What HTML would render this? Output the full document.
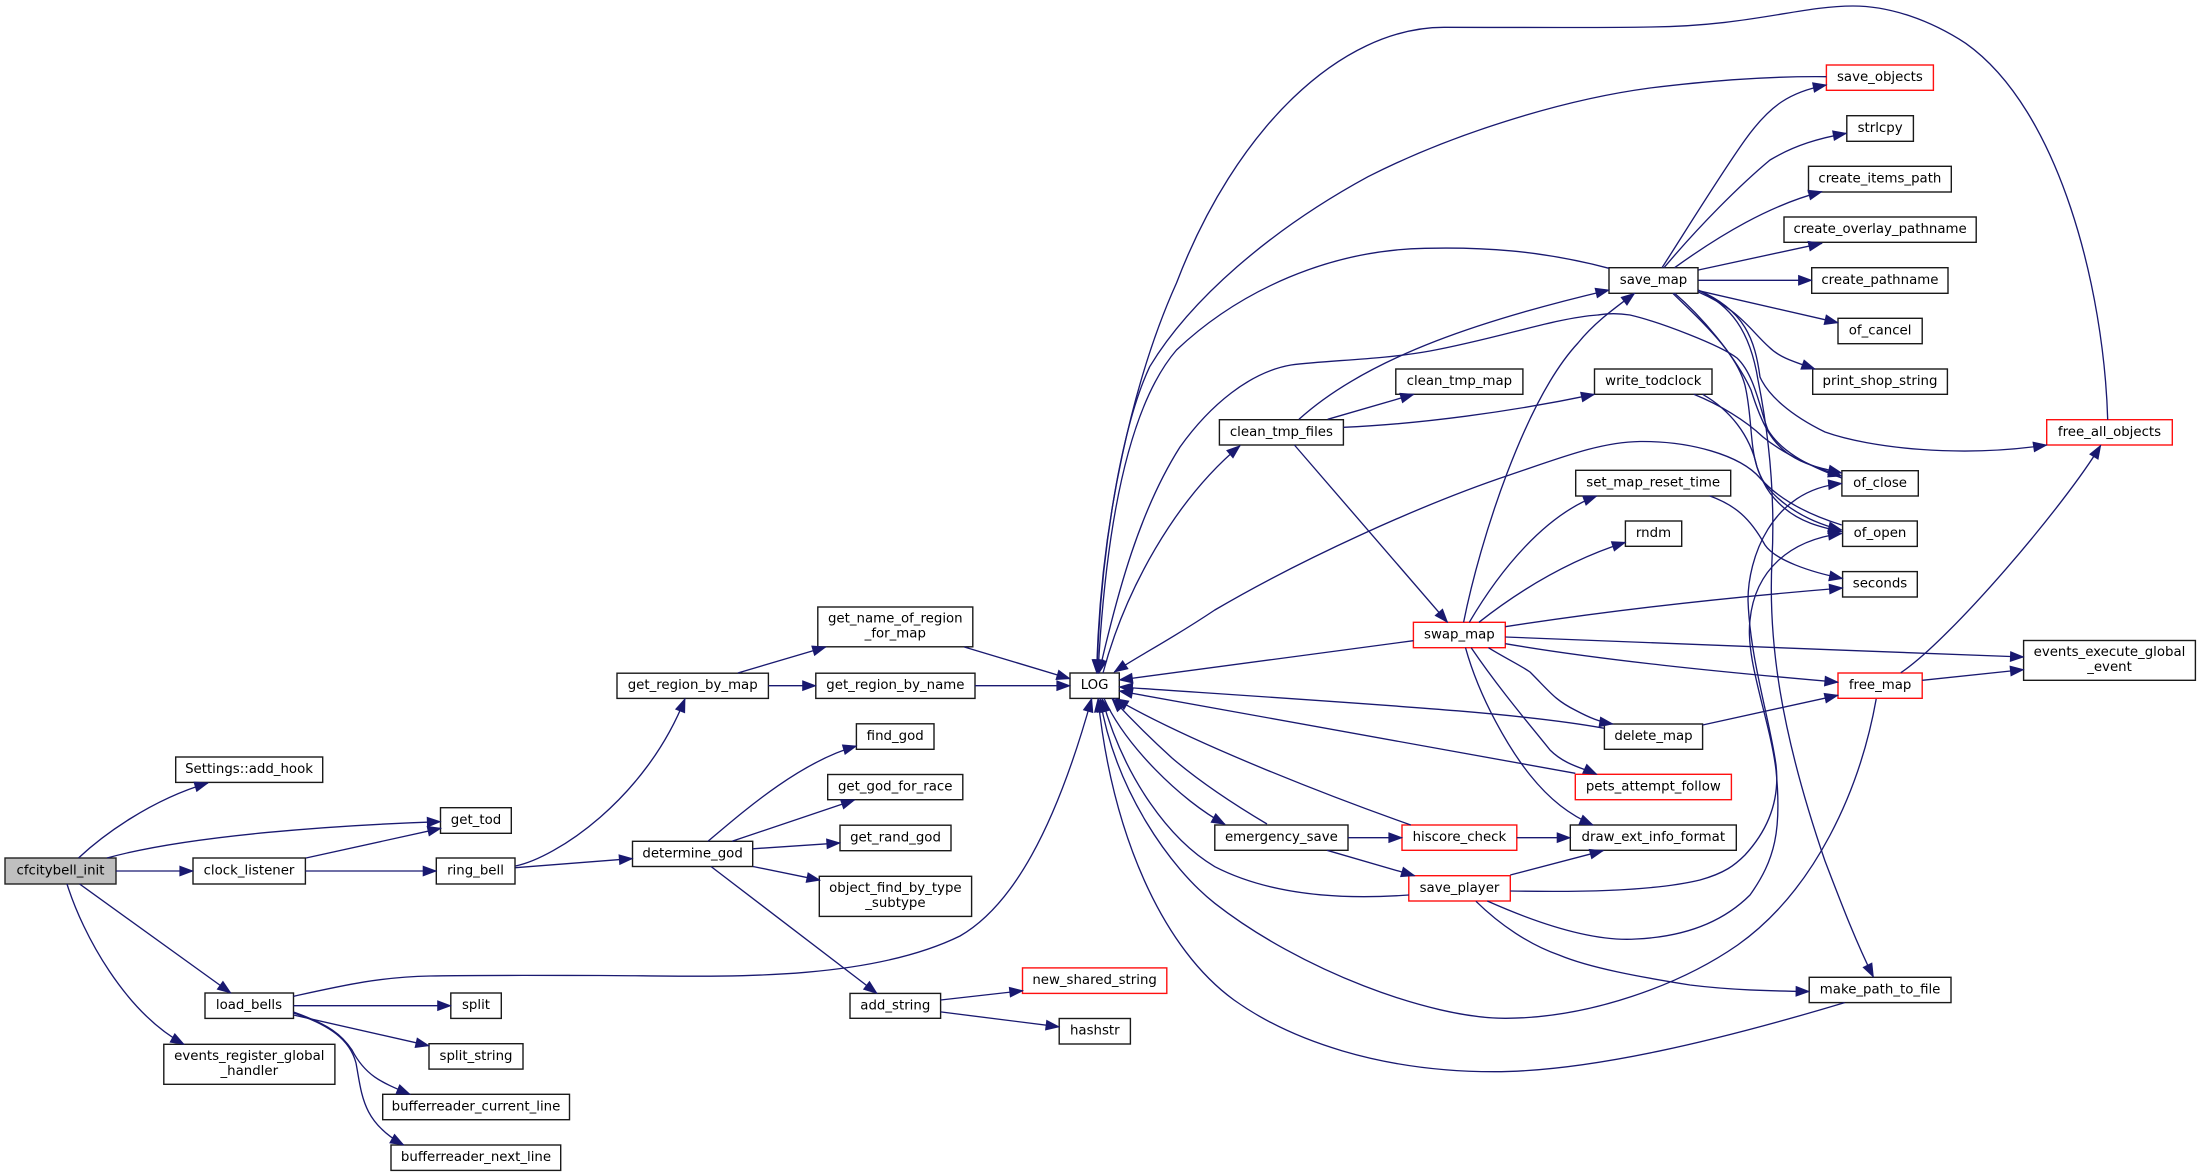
<!DOCTYPE html>
<html><head><meta charset="utf-8"><title>cfcitybell_init call graph</title>
<style>
html,body{margin:0;padding:0;background:#fff;width:2200px;height:1176px;overflow:hidden}
svg{display:block}
text{font-family:"DejaVu Sans",sans-serif;font-size:13.33px;text-anchor:middle;fill:#000}
rect{fill:#fff;stroke:#1a1a1a;stroke-width:1.4}
rect.r{stroke:#ff1010}
rect.g{fill:#bfbfbf;stroke:#222}
g.e path{fill:none;stroke:#191970;stroke-width:1.33;marker-end:url(#a)}
</style></head><body>
<svg xmlns="http://www.w3.org/2000/svg" width="2200" height="1176" viewBox="0 0 2200 1176">
<defs><marker id="a" markerUnits="userSpaceOnUse" markerWidth="18" markerHeight="14" refX="14" refY="6" orient="auto" overflow="visible"><path d="M1 1.4L13.4 6L1 10.6z" fill="#191970" stroke="#191970" stroke-width="1.2"/></marker></defs>

<!-- nodes -->
<rect class="g" x="5" y="858" width="111" height="26"/><text x="60.5" y="874.5">cfcitybell_init</text>
<rect x="175.7" y="757" width="147" height="25.4"/><text x="249" y="773">Settings::add_hook</text>
<rect x="440.5" y="807.7" width="70.8" height="25.6"/><text x="476" y="824">get_tod</text>
<rect x="193" y="858" width="112.4" height="26"/><text x="249" y="874.5">clock_listener</text>
<rect x="436.3" y="858" width="78.7" height="26"/><text x="475.5" y="874.5">ring_bell</text>
<rect x="205" y="993" width="88.5" height="25.4"/><text x="249" y="1009">load_bells</text>
<rect x="450.8" y="993" width="50.5" height="25.4"/><text x="476" y="1009">split</text>
<rect x="429" y="1043.7" width="94" height="25.4"/><text x="476" y="1060">split_string</text>
<rect x="163.8" y="1044.3" width="171.1" height="40"/><text x="249.3" y="1060">events_register_global</text><text x="249.3" y="1075">_handler</text>
<rect x="382.7" y="1094.3" width="186.8" height="25.4"/><text x="476" y="1110.5">bufferreader_current_line</text>
<rect x="391" y="1145" width="169.7" height="25.4"/><text x="476" y="1161">bufferreader_next_line</text>
<rect x="817.8" y="607" width="155" height="39.8"/><text x="895.3" y="622.7">get_name_of_region</text><text x="895.3" y="637.7">_for_map</text>
<rect x="617" y="673.2" width="151.4" height="25.2"/><text x="692.7" y="689.2">get_region_by_map</text>
<rect x="815.8" y="673.2" width="159.2" height="25.2"/><text x="895.4" y="689.2">get_region_by_name</text>
<rect x="1070" y="673" width="49.3" height="25.4"/><text x="1094.6" y="689.2">LOG</text>
<rect x="856.4" y="723.8" width="77.6" height="25.5"/><text x="895.2" y="740">find_god</text>
<rect x="827.7" y="774.5" width="135.1" height="25.2"/><text x="895.2" y="790.5">get_god_for_race</text>
<rect x="840" y="825.2" width="111" height="25.5"/><text x="895.5" y="841.3">get_rand_god</text>
<rect x="632.5" y="841.3" width="120.2" height="25.2"/><text x="692.6" y="857.3">determine_god</text>
<rect x="819.3" y="876.3" width="152.3" height="40.1"/><text x="895.4" y="892">object_find_by_type</text><text x="895.4" y="907">_subtype</text>
<rect x="850" y="993.4" width="90.6" height="24.9"/><text x="895.3" y="1009.3">add_string</text>
<rect class="r" x="1022.5" y="967.9" width="144.3" height="25.5"/><text x="1094.6" y="984">new_shared_string</text>
<rect x="1059.2" y="1018.5" width="71.2" height="25.5"/><text x="1094.8" y="1034.7">hashstr</text>
<rect x="1609" y="267.7" width="89" height="25.6"/><text x="1653.5" y="284">save_map</text>
<rect x="1395.8" y="369" width="127.1" height="25.3"/><text x="1459.4" y="385">clean_tmp_map</text>
<rect x="1594.5" y="369" width="117.5" height="25.3"/><text x="1653.3" y="385">write_todclock</text>
<rect x="1219.4" y="419.7" width="124" height="25.3"/><text x="1281.4" y="436">clean_tmp_files</text>
<rect x="1575.7" y="470.3" width="155" height="25.7"/><text x="1653.2" y="486.5">set_map_reset_time</text>
<rect class="r" x="1826.4" y="65" width="107" height="25.3"/><text x="1879.9" y="81">save_objects</text>
<rect x="1846.8" y="115.7" width="66.6" height="25.6"/><text x="1880.1" y="132">strlcpy</text>
<rect x="1808.5" y="166.3" width="142.8" height="25.7"/><text x="1879.9" y="182.5">create_items_path</text>
<rect x="1784" y="217" width="192.2" height="25.3"/><text x="1880.1" y="233">create_overlay_pathname</text>
<rect x="1811.7" y="267.7" width="136.3" height="25.6"/><text x="1879.9" y="284">create_pathname</text>
<rect x="1838" y="318.3" width="84.2" height="25.4"/><text x="1880.1" y="334.5">of_cancel</text>
<rect x="1812.7" y="369" width="134.7" height="25.3"/><text x="1880" y="385">print_shop_string</text>
<rect class="r" x="2046.7" y="419.7" width="125.6" height="25.3"/><text x="2109.5" y="436">free_all_objects</text>
<rect x="1841.9" y="470.7" width="76.4" height="25.3"/><text x="1880.1" y="486.8">of_close</text>
<rect x="1625.4" y="521" width="56.3" height="25.3"/><text x="1653.5" y="537">rndm</text>
<rect class="r" x="1413.4" y="622.3" width="91.9" height="25.4"/><text x="1459.4" y="638.5">swap_map</text>
<rect x="1604.4" y="724" width="98.2" height="25.3"/><text x="1653.5" y="740">delete_map</text>
<rect class="r" x="1575.3" y="774.3" width="156.1" height="25.4"/><text x="1653.3" y="790.5">pets_attempt_follow</text>
<rect x="1214.8" y="825" width="133.2" height="25.3"/><text x="1281.4" y="841">emergency_save</text>
<rect class="r" x="1402" y="825" width="114.8" height="25.3"/><text x="1459.4" y="841">hiscore_check</text>
<rect x="1570.3" y="825" width="166" height="25.3"/><text x="1653.3" y="841">draw_ext_info_format</text>
<rect class="r" x="1408.8" y="875.7" width="101.5" height="25.3"/><text x="1459.5" y="892">save_player</text>
<rect x="1842.6" y="521" width="74.7" height="25.4"/><text x="1880" y="537">of_open</text>
<rect x="1842.6" y="571.6" width="74.7" height="25.4"/><text x="1880" y="587.7">seconds</text>
<rect x="2023.6" y="640.5" width="171.8" height="39.8"/><text x="2109.5" y="655.8">events_execute_global</text><text x="2109.5" y="670.8">_event</text>
<rect class="r" x="1838" y="673" width="84.2" height="25.3"/><text x="1880.1" y="689">free_map</text>
<rect x="1809.2" y="977.3" width="141.8" height="25.3"/><text x="1880.1" y="993.5">make_path_to_file</text>

<!-- edges -->
<g class="e">
<path d="M78.5 858C102 836 150 800 208 783"/>
<path d="M107 858C190 835 340 825 440.5 821.7"/>
<path d="M116 871L193 871"/>
<path d="M79.6 884L230.8 993"/>
<path d="M67 884C83 935 125 1012 184 1044.3"/>
<path d="M306 858L441 828.3"/>
<path d="M305.4 871L436.3 871"/>
<path d="M515.5 866C555 858 645 800 685 698.7"/>
<path d="M515.5 867.7L632.5 858.6"/>
<path d="M737.8 673L825.8 647"/>
<path d="M768.4 685.7L815.8 685.7"/>
<path d="M964.3 647L1070 678.7"/>
<path d="M975 685.7L1070 685.7"/>
<path d="M708 841.3C745 810 800 762 856.4 746"/>
<path d="M732 841.3L854.5 800"/>
<path d="M752.7 848.8L840 842.9"/>
<path d="M753 866.5L820 880.2"/>
<path d="M711 866.5L877 993.4"/>
<path d="M293.5 996.3C345 985 380 977 430 976C470 975 560 975.5 600 975.5C700 975.5 860 985 960 936C1012 906 1055 830 1091.7 698.5"/>
<path d="M293.5 1005.7L450.8 1005.7"/>
<path d="M293.5 1015L429 1045.7"/>
<path d="M293.5 1012C330 1025 342 1035 352 1050C365 1075 380 1082 410 1094.3"/>
<path d="M293.5 1013C330 1025 350 1040 356 1063C362 1095 362 1122 403.7 1145"/>
<path d="M940.6 1000L1022.9 990.7"/>
<path d="M940.6 1011.9L1059.2 1026.8"/>

<path d="M2107.7 419.7C2104 290 2060 110 1965.7 43.3C1930 20 1890 6 1853 6C1800 6 1750 26 1650 27C1600 28 1500 27.3 1444 27.3C1340 27.3 1235 130 1176.5 283C1135 375 1100 520 1096.7 673"/>
<path d="M1826.4 76.7C1760 76 1700 82 1650 88C1560 100 1450 135 1368 176.7C1270 230 1190 300 1149.7 366.7C1120 430 1100 560 1097 673"/>
<path d="M1609 268.3C1540 250 1480 247 1425 248.3C1330 250 1240 290 1176.5 350C1125 410 1105 540 1098 673"/>
<path d="M1841.7 478C1805 465 1780 450 1768 430C1760 410 1755 375 1737 358C1720 345 1660 322 1630 315C1610 312 1600 315 1597.5 315C1555 318 1500 338 1430 351C1380 360 1330 360 1291 365C1250 372 1210 405 1180 447C1140 510 1118 590 1099 673"/>
<path d="M1841.7 525C1800 512 1775 495 1760 478C1740 455 1690 441 1640 441.5C1600 442 1560 458 1509.5 475C1420 505 1300 560 1214.8 610C1170 640 1140 655 1114.3 672"/>
<path d="M1103 673C1125 590 1175 500 1240 445.7"/>
<path d="M1413.4 640.7L1119.3 680"/>
<path d="M1604.4 728.3C1520 713 1400 706 1119.3 687"/>
<path d="M1575.3 773.3L1119.3 691"/>
<path d="M1410.8 825C1340 800 1195 745 1115 698.6"/>
<path d="M1267 824C1235 805 1200 782 1172 758C1150 738 1130 718 1112 698.6"/>
<path d="M1104 698.4C1125 745 1180 800 1225 824.3"/>
<path d="M1408.8 895C1340 900 1270 895 1214.8 866.7C1170 840 1125 780 1102 698.6"/>
<path d="M1876.2 699C1860 790 1815 890 1737.7 945C1680 985 1590 1018 1505.7 1018.3C1430 1018.5 1300 970 1214.8 903.3C1170 868 1115 790 1100 698.6"/>
<path d="M1844.7 1002.6C1720 1040 1590 1071.7 1494 1071.7C1380 1071.7 1290 1040 1234 1000C1165 950 1113 840 1098 698.6"/>

<path d="M1662 267.7C1680 240 1720 175 1745 140C1770 105 1790 92 1826.4 85"/>
<path d="M1664 267.7C1700 225 1740 185 1770 160C1795 145 1820 138 1846.4 133.3"/>
<path d="M1674.6 267.7C1720 235 1770 205 1821.9 191.7"/>
<path d="M1698.4 270L1821.9 243.3"/>
<path d="M1698.4 280.3L1811.7 280.3"/>
<path d="M1698.4 290.7L1838 322.7"/>
<path d="M1698.4 292C1740 310 1750 330 1769 347C1780 358 1795 362 1814.9 369"/>
<path d="M1698 290C1745 310 1755 340 1760 377C1768 395 1790 415 1825 432C1870 448 1960 458 2046.7 445"/>
<path d="M1674.6 293.3C1700 315 1735 355 1751 390C1762 425 1772 443 1790 455C1805 465 1820 468 1841.7 473"/>
<path d="M1672.8 293.3C1700 320 1740 355 1746 390C1752 420 1750 445 1757 467C1765 490 1775 500 1783 507C1800 522 1820 527 1841.7 531.7"/>
<path d="M1698 290C1730 305 1750 330 1758 380C1770 440 1775 500 1772 560C1768 640 1780 730 1825 861C1840 900 1855 940 1873.4 977"/>

<path d="M1693.8 394.3C1720 405 1745 420 1763 437C1785 455 1815 468 1841.7 476"/>
<path d="M1702.6 394.3C1730 410 1750 435 1757 467C1765 495 1800 520 1841.7 530"/>
<path d="M1709.6 495.9C1735 505 1750 518 1765 545C1775 560 1810 572 1842.6 578.5"/>

<path d="M1299 419.3C1370 355 1490 318 1609 290"/>
<path d="M1327.7 419.3L1413.8 394.3"/>
<path d="M1343.4 427.3C1420 424 1510 412 1594.5 394.3"/>
<path d="M1294.4 445L1447.5 622.3"/>

<path d="M1463.6 622.3C1480 540 1525 400 1578 343C1595 322 1615 308 1634.6 293.3"/>
<path d="M1469.3 622.3C1500 570 1545 515 1596.7 496"/>
<path d="M1478.9 622.3C1520 590 1570 560 1625.4 542.3"/>
<path d="M1505.3 626.7C1600 612 1720 598 1842.6 588"/>
<path d="M1505.3 637C1700 644 1850 651 2023.6 657"/>
<path d="M1505.3 643.7C1600 660 1720 672 1838 682.2"/>
<path d="M1488.4 647.7C1505 658 1520 665 1530 672C1550 692 1555 700 1575 710C1590 718 1600 722 1612.8 724"/>
<path d="M1471.2 647.7C1500 690 1530 725 1550 750C1565 765 1583 768 1596.7 774.3"/>
<path d="M1465.5 647.7C1480 700 1510 750 1530 775C1550 800 1570 815 1593 825"/>

<path d="M1702.6 725L1838 695.3"/>
<path d="M1900.8 672.7C1950 640 2065 505 2100.7 445.4"/>
<path d="M1922.2 680.3L2023.6 669.6"/>
<path d="M1348 837.7L1402 837.7"/>
<path d="M1516.8 837.7L1570.3 837.7"/>
<path d="M1327 850.3L1414.6 875.7"/>
<path d="M1510.3 875L1603.2 850.7"/>

<path d="M1510.3 891C1570 892 1650 892 1700 880C1725 873 1735 865 1745 855C1768 830 1780 800 1776 765C1770 720 1750 660 1748 600C1748 560 1770 490 1841.7 483.5"/>
<path d="M1487.3 901C1530 920 1590 942 1636 939C1680 937 1720 925 1750 895C1775 860 1782 830 1776 770C1770 720 1745 660 1750 620C1755 570 1790 540 1841.7 533.5"/>
<path d="M1476 901.3C1500 925 1530 945 1559 955C1590 968 1640 977 1690 985C1730 990 1770 991 1809.2 991.5"/>
</g>
</svg>
</body></html>
